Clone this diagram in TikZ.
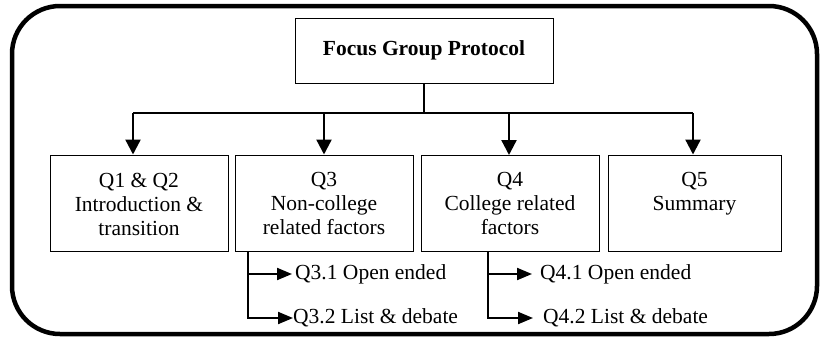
\documentclass[tikz,border=0pt]{standalone}
\usepackage{fontspec}
\setmainfont{Liberation Serif}
\usetikzlibrary{arrows.meta}
\begin{document}
\begin{tikzpicture}[x=1pt,y=-1pt,
  frame/.style={line width=4.5pt,rounded corners=48pt},
  qbox/.style={draw,line width=1pt,minimum height=96pt,inner sep=0pt},
  qtext/.style={font=\fontsize{21.5}{24}\selectfont,align=center,inner sep=0pt,anchor=north},
  subtext/.style={font=\fontsize{21.5}{24}\selectfont,inner sep=0pt,anchor=west},
  tip/.style={-{Triangle[length=15pt,width=15pt]}},
  subtip/.style={-{Triangle[length=15pt,width=12pt]}},
  bus/.style={line width=2pt},
  shaft/.style={line width=2.3pt,tip}]
\useasboundingbox (0,0) rectangle (821,338);
% outer frame
\draw[frame] (12,6) rectangle (817,334);
% title box
\node[draw,line width=1pt,minimum width=258pt,minimum height=65pt,
      font=\fontsize{21.5}{24}\selectfont\bfseries] (top) at (424,50.5) {Focus Group Protocol};
% question boxes
\node[qbox,minimum width=178pt] (q1) at (139,203) {};
\node[qbox,minimum width=178pt] (q2) at (324,203) {};
\node[qbox,minimum width=178pt] (q3) at (510,203) {};
\node[qbox,minimum width=173pt] (q4) at (694.5,203) {};
\node[qtext] (q1t) at ([yshift=-18pt]q1.north) {Q1 \& Q2\\Introduction \&\\transition};
\node[qtext] (q2t) at ([yshift=-18pt]q2.north) {Q3\\Non-college\\related factors};
\node[qtext] (q3t) at ([yshift=-18pt]q3.north) {Q4\\College related\\factors};
\node[qtext] (q4t) at ([yshift=-18pt]q4.north) {Q5\\Summary};
% distribution bus
\coordinate (busL) at (133,113);
\coordinate (busR) at (693,113);
\draw[line width=1.3pt] (top.south) -- (top.south |- busL);
\draw[bus] (busL) -- (busR);
\draw[shaft] (busL) -- (busL |- q1.north);
\draw[shaft] (q2.north |- busL) -- (q2.north);
\draw[shaft] (509,113) -- (509,155);
\draw[shaft] (busR) -- (busR |- q4.north);
% sub-questions of Q3
\node[subtext] (q31) at (295,274) {Q3.1 Open ended};
\node[subtext] (q32) at (293,318) {Q3.2 List \& debate};
\coordinate (b3) at (248,251);
\draw[bus,subtip] (b3) |- (q32.west);
\draw[bus,subtip] (b3 |- q31.west) -- ([xshift=-3pt]q31.west);
% sub-questions of Q4
\node[subtext] (q41) at (540,274) {Q4.1 Open ended};
\node[subtext] (q42) at (543,318) {Q4.2 List \& debate};
\coordinate (b4) at (488,251);
\draw[bus,subtip] (b4) |- ([xshift=-10pt]q42.west);
\draw[bus,subtip] (b4 |- q41.west) -- ([xshift=-8pt]q41.west);
\end{tikzpicture}
\end{document}
